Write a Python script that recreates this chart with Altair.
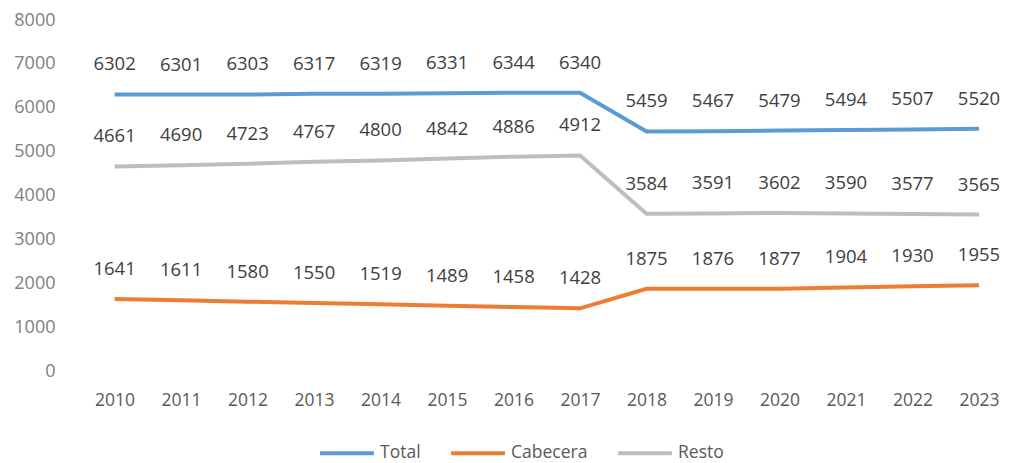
import altair as alt
import pandas as pd

years = list(range(2010, 2024))
total = [6302, 6301, 6303, 6317, 6319, 6331, 6344, 6340, 5459, 5467, 5479, 5494, 5507, 5520]
cabecera = [1641, 1611, 1580, 1550, 1519, 1489, 1458, 1428, 1875, 1876, 1877, 1904, 1930, 1955]
resto = [4661, 4690, 4723, 4767, 4800, 4842, 4886, 4912, 3584, 3591, 3602, 3590, 3577, 3565]
series = ["Total", "Cabecera", "Resto"]
colors = ["#5b9bd5", "#ed7d31", "#bdbdbd"]
widths = [4, 4, 3]
y_ticks = [0, 1000, 2000, 3000, 4000, 5000, 6000, 7000, 8000]

rows = []
for name, vals in zip(series, [total, cabecera, resto]):
    for yr, v in zip(years, vals):
        rows.append({"year": yr, "value": v, "serie": name})
df = pd.DataFrame(rows)

FONT = "Open Sans"

x_enc = alt.X(
    "year:Q",
    scale=alt.Scale(domain=[2009.254, 2023.316], nice=False, zero=False),
    axis=alt.Axis(values=years, format="d", title=None, grid=False, domain=False,
                  ticks=False, labelPadding=20, labelFontSize=17.5, labelColor="#595959",
                  labelFont=FONT, labelFlush=False),
)
y_enc = alt.Y(
    "value:Q",
    scale=alt.Scale(domain=[0, 8000], nice=False),
    axis=alt.Axis(values=y_ticks, format="d", title=None, grid=False, domain=False,
                  ticks=False, labelPadding=10, labelFontSize=18, labelColor="#808080",
                  labelFont=FONT),
)
color_enc = alt.Color(
    "serie:N",
    scale=alt.Scale(domain=series, range=colors),
    legend=alt.Legend(title=None, orient="none", direction="horizontal",
                      legendX=253, legendY=404, symbolType="stroke",
                      symbolSize=2900, symbolStrokeWidth=4, labelFontSize=17.5,
                      labelColor="#595959", labelFont=FONT, labelOffset=4,
                      columnPadding=22),
)

lines = alt.Chart(df).mark_line(interpolate="linear").encode(
    x=x_enc, y=y_enc, color=color_enc, detail="serie:N",
    strokeWidth=alt.StrokeWidth("serie:N", scale=alt.Scale(domain=series, range=widths),
                                legend=None),
)

labels = alt.Chart(df).mark_text(
    dy=-30, fontSize=18.5, color="#404040", font=FONT, baseline="middle", align="center"
).encode(
    x="year:Q", y="value:Q", text=alt.Text("value:Q", format="d")
)

chart = (lines + labels).properties(
    width=935, height=351,
    autosize=alt.AutoSizeParams(type="none"),
    padding={"left": 57, "top": 12, "right": 2, "bottom": 92},
    background="white",
).configure_view(strokeWidth=0, stroke=None)

chart.save("out.html", embed_options={"renderer": "svg", "actions": False})
